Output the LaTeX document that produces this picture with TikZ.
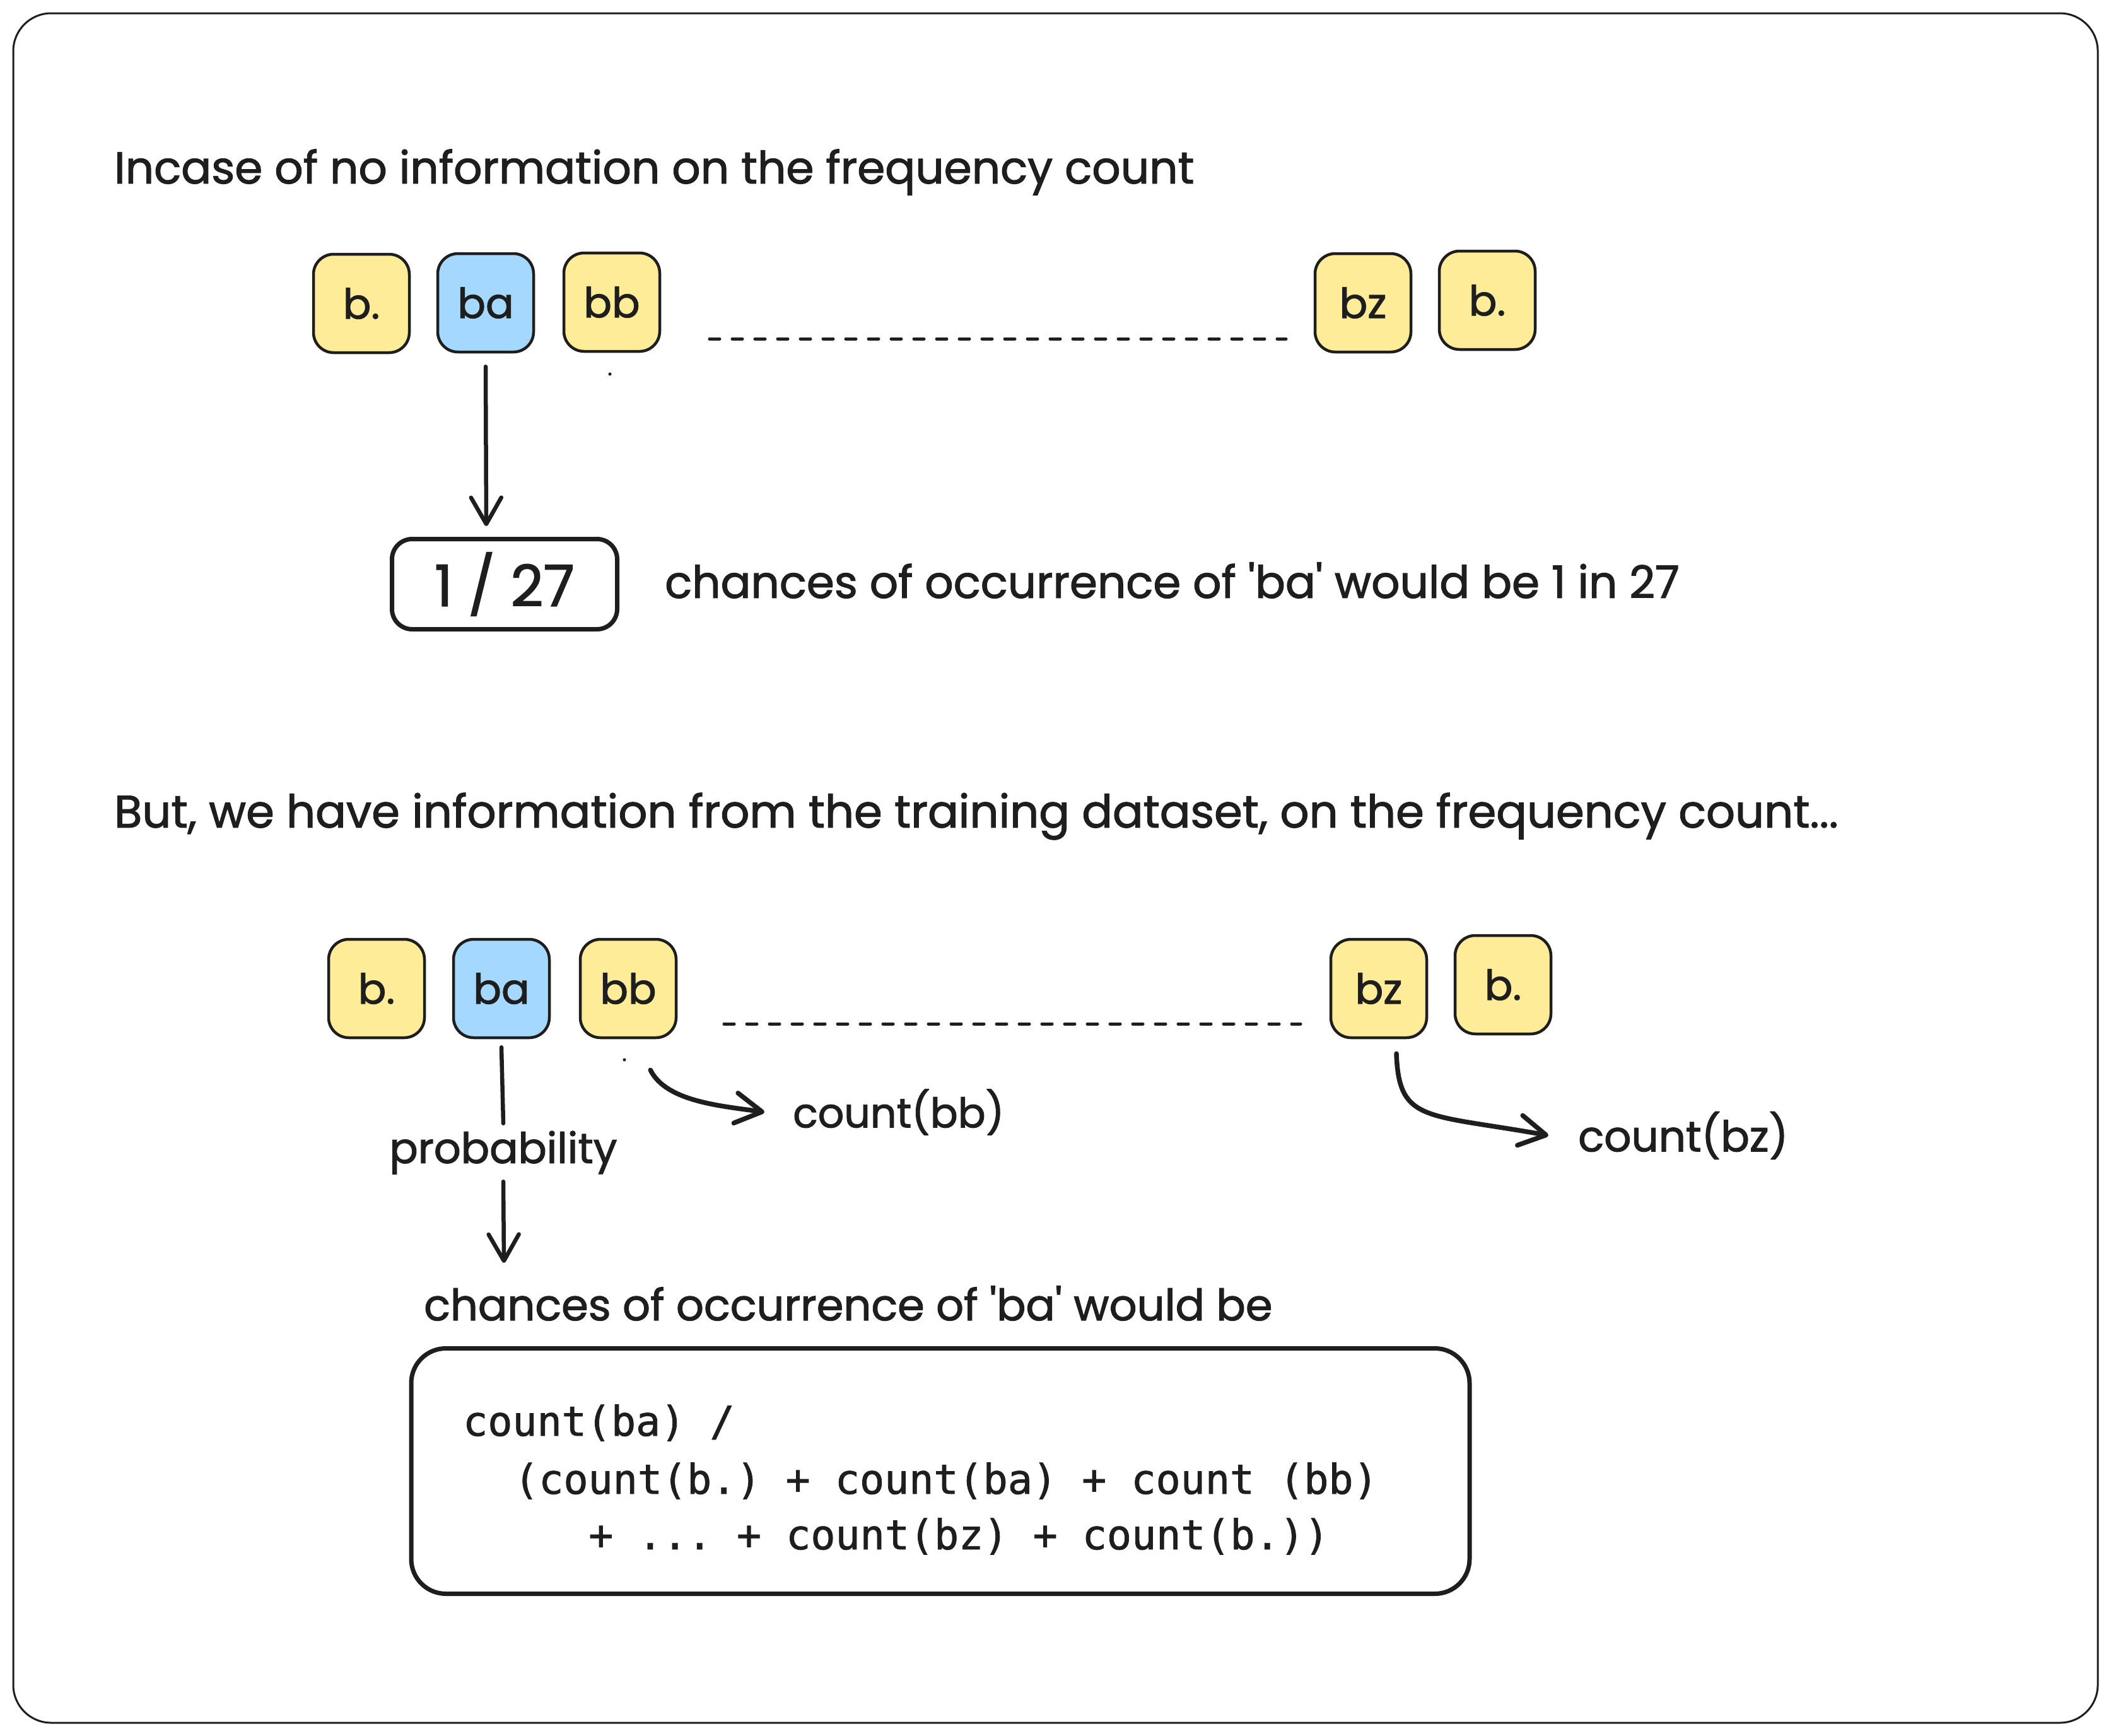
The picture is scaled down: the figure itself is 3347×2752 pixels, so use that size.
\documentclass[tikz,border=0pt]{standalone}
\usepackage{fontspec}
\setmainfont{Poppins}[FakeBold=1.6]
\setmonofont{DejaVu Sans Mono}[FakeBold=1.2]
\usetikzlibrary{arrows.meta}
\definecolor{ink}{HTML}{1E1E1E}
\definecolor{yel}{HTML}{FFEC99}
\definecolor{blu}{HTML}{A5D8FF}
\newcommand\fitw[2]{\resizebox{#1pt}{!}{#2}}
\begin{document}
\begin{tikzpicture}[x=1pt,y=-1pt,
  tok/.style={draw=ink,line width=4.5pt,rounded corners=32pt,minimum width=152pt,minimum height=156pt,inner sep=0pt,font=\fontsize{66}{78}\selectfont,text=ink},
  ytok/.style={tok,fill=yel},
  btok/.style={tok,fill=blu},
  txt/.style={inner sep=0pt,text=ink},
  mono/.style={inner sep=0pt,text=ink,font=\ttfamily\fontsize{65}{78}\selectfont},
  bigbox/.style={draw=ink,line width=7pt,inner sep=0pt,text=ink},
  ln/.style={draw=ink,line width=6.5pt,line cap=round},
  arr/.style={ln,-{Straight Barb[length=42pt,width=48pt,round]}},
  dline/.style={draw=ink,line width=5pt,line cap=round,dash pattern=on 16pt off 20pt}]
\useasboundingbox (0,0) rectangle (3347,2752);
\fill[white] (0,0) rectangle (3347,2752);
\draw[ink,line width=3pt,rounded corners=60pt] (21,21) rectangle (3326,2731);

% ---- top section
\node[txt,anchor=west] (h1) at (181,273) {\fitw{1712}{Incase of no information on the frequency count}};
\node[ytok] (b1) at (573,481) {b.};
\node[btok] (ba1) at (770,480) {ba};
\node[ytok] (bb1) at (970,479) {bb};
\node[ytok] (bz1) at (2161,480) {bz};
\node[ytok] (bd1) at (2358,476) {b.};
\coordinate (d1a) at (1125,537);
\coordinate (d1b) at (2039,537);
\draw[dline] (d1a) -- (d1b);
\fill[ink] (967,593) circle (2.5pt);

\node[bigbox,rounded corners=32pt,minimum width=357pt,minimum height=143pt] (frac) at (800,926) {\fitw{222}{1 / 27}};
\coordinate (a1e) at (771,834);
\draw[arr] ([yshift=-21pt]ba1.south) -- (a1e);
\node[txt,anchor=west] (c1) at (1054,920) {\fitw{1608}{chances of occurrence of \textquotesingle ba\textquotesingle\ would be 1 in 27}};

% ---- bottom section
\node[txt,anchor=west] (h2) at (181,1294) {\fitw{2733}{But, we have information from the training dataset, on the frequency count...}};
\node[ytok] (b2) at (597,1567) {b.};
\node[btok] (ba2) at (795,1567) {ba};
\node[ytok] (bb2) at (996,1567) {bb};
\node[ytok] (bz2) at (2186,1567) {bz};
\node[ytok] (bd2) at (2383,1561) {b.};
\coordinate (d2a) at (1148,1623);
\coordinate (d2b) at (2062,1623);
\draw[dline] (d2a) -- (d2b);
\fill[ink] (990,1680) circle (2.5pt);

\node[txt,minimum height=92pt] (prob) at (798,1827) {\fitw{361}{probability}};
\draw[ln] ([yshift=-13pt]ba2.south) -- (prob.north);
\coordinate (pend) at (799,2002);
\draw[arr] (prob.south) -- (pend);

\node[txt,anchor=west] (cbb) at (1257,1763) {\fitw{335}{count(bb)}};
\draw[arr,line width=7.5pt] ([xshift=-43pt,yshift=-49pt]bb2.south east) .. controls +(25,50) and +(-70,-10) .. ([xshift=-45pt]cbb.west);
\node[txt,anchor=west] (cbz) at (2502,1800) {\fitw{333}{count(bz)}};
\draw[arr,line width=7.5pt] ([xshift=28pt,yshift=-23pt]bz2.south) .. controls +(4,110) and +(-195,-35) .. ([xshift=-47pt]cbz.west);

\node[txt,anchor=west] (ch2) at (672,2066) {\fitw{1345}{chances of occurrence of \textquotesingle ba\textquotesingle\ would be}};
\node[bigbox,rounded corners=55pt,minimum width=1678pt,minimum height=389pt] (fb) at (1491,2332) {};
\node[mono,anchor=base west] (f1) at (734,2276) {count(ba) /};
\node[mono,anchor=base west] (f2) at (815,2368) {(count(b.) + count(ba) + count (bb)};
\node[mono,anchor=base west] (f3) at (933,2456) {+ ... + count(bz) + count(b.))};
\end{tikzpicture}
\end{document}
